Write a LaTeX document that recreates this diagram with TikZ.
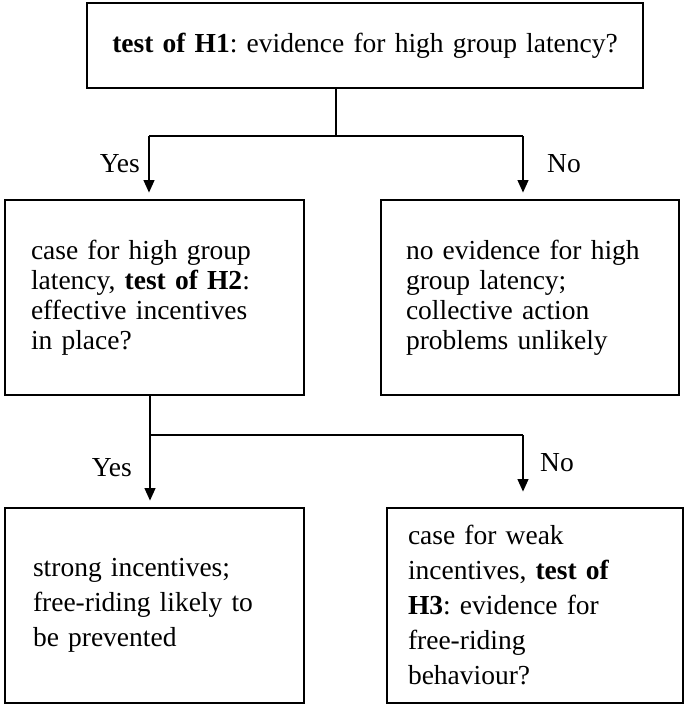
\documentclass[tikz,border=0pt]{standalone}
\usepackage{fontspec}
\setmainfont{Liberation Serif}
\usetikzlibrary{arrows.meta}
\frenchspacing
\tikzset{
  box/.style={draw, line width=2.6pt, rectangle, inner ysep=0pt, minimum height=195pt, align=left},
  conn/.style={line width=2.3pt},
  arr/.style={line width=2.3pt, -{Triangle[width=10.5pt,length=12.5pt]}},
  lbl/.style={inner sep=0pt},
  midfont/.style={font=\fontsize{27.5}{30}\selectfont},
  lowfont/.style={font=\fontsize{27.5}{35}\selectfont}
}
\begin{document}
\begin{tikzpicture}[x=1pt,y=-1pt,font=\fontsize{27.5}{30}\selectfont]
\useasboundingbox (0,0) rectangle (685,707);

\node[draw, line width=2.6pt, rectangle, minimum height=85pt, text width=536pt, inner xsep=10pt, inner ysep=0pt, align=center] (top) at (365,45.5)
  {\textbf{test of H1}: evidence for high group latency?};

\node[box, midfont, text width=247pt, inner xsep=26pt] (m1) at (154.5,297.5)
  {case for high group\\latency, \textbf{test of H2}:\\effective incentives\\in place?};
\node[box, midfont, text width=248pt, inner xsep=25pt] (m2) at (530,297.5)
  {no evidence for high\\group latency;\\collective action\\problems unlikely};

\node[box, lowfont, text width=243pt, inner xsep=28pt] (b1) at (154.5,605.5)
  {strong incentives;\\free-riding likely to\\be prevented};
\node[box, lowfont, text width=254pt, inner xsep=21pt] (b2) at (535,605.5)
  {case for weak\\incentives, \textbf{test of}\\\textbf{H3}: evidence for\\free-riding\\behaviour?};

% first branching
\coordinate (j1) at (336,136);
\coordinate (j1l) at (149,136);
\coordinate (j1r) at (523,136);
\draw[conn] (top.south -| j1) -- (j1);
\draw[conn] (j1l) -- (j1r);
\draw[arr] (j1l) -- ([yshift=6pt]m1.north -| j1l);
\draw[arr] (j1r) -- ([yshift=6pt]m2.north -| j1r);
\node[lbl, anchor=base east] (y1) at (140,172) {Yes};
\node[lbl, anchor=base west] (n1) at (547,172) {No};

% second branching
\coordinate (j2) at (150,435);
\coordinate (j2r) at (523,435);
\draw[conn] (m1.south -| j2) -- (j2) -- (j2r);
\draw[arr] (j2) -- ([yshift=6pt]b1.north -| j2);
\draw[arr] (j2r) -- ([yshift=15pt]b2.north -| j2r);
\node[lbl, anchor=base east] (y2) at (132,476) {Yes};
\node[lbl, anchor=base west] (n2) at (540,471) {No};
\end{tikzpicture}
\end{document}
